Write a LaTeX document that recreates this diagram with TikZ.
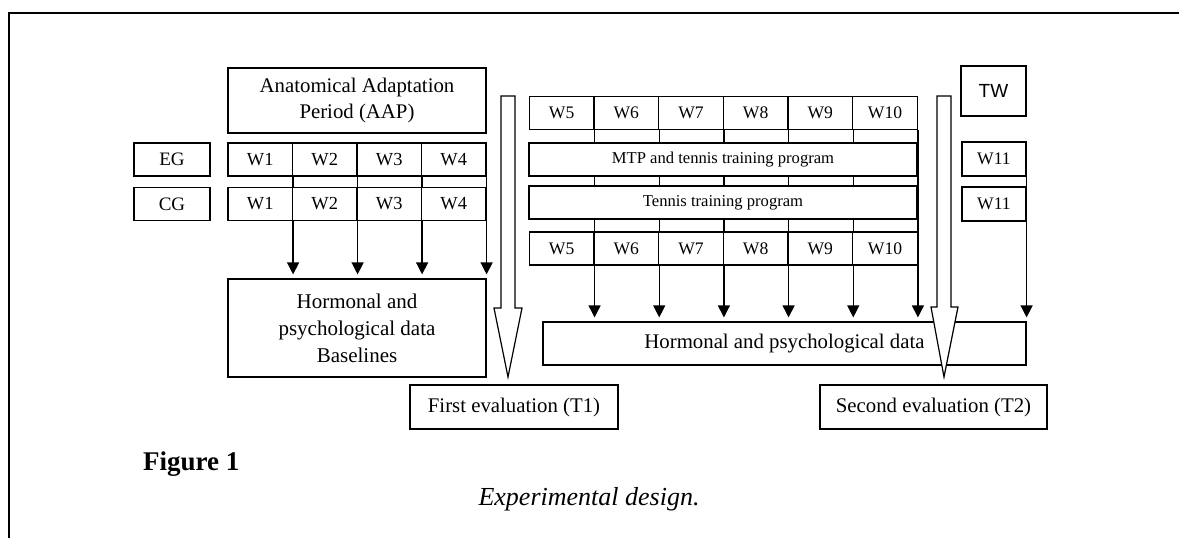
\documentclass[tikz,border=0pt]{standalone}
\usepackage{fontspec}
\setmainfont{Liberation Serif}
\newfontfamily\twfont{Liberation Sans}
\usetikzlibrary{arrows.meta,positioning}
\pgfdeclarelayer{background}
\pgfsetlayers{background,main}

\begin{document}
\begin{tikzpicture}[>=Latex,x=0.5pt,y=-0.5pt,
    every node/.style={font=\fontsize{10.4}{13}\selectfont},
    box/.style={draw,fill=white,line width=0.6pt,inner sep=0pt,align=center},
    cell/.style={box,minimum width=32.25pt,minimum height=16.5pt,font=\fontsize{9.2}{11}\selectfont},
    wcell/.style={box,minimum width=32.33pt,minimum height=16.5pt,font=\fontsize{8.8}{10}\selectfont},
    band/.style={box,minimum width=194pt,minimum height=16.5pt,font=\fontsize{8.3}{10}\selectfont},
    flow/.style={-{Triangle[width=6pt,length=6pt]},line width=0.65pt,shorten >=2pt},
    bigarrow/.style={draw,fill=white,line width=0.6pt,line join=miter}]
  \useasboundingbox (0,0) rectangle (1179,538);
  \draw[line width=1.25pt] (9,538) -- (9,13) -- (1179,13);

  % adaptation period
  \node[box,minimum width=129pt,minimum height=32.5pt] (aap) at (357,100.5) {Anatomical Adaptation\\Period (AAP)};
  \node[box,minimum width=38pt,minimum height=16.5pt,font=\fontsize{9.5}{11}\selectfont] (eg) at (172,159.5) {EG};
  \node[box,minimum width=38pt,minimum height=16.2pt,font=\fontsize{9.5}{11}\selectfont] (cg) at (172,204) {CG};
  \foreach \i in {1,...,4} {
    \node[cell] (eg\i) at ({228+(\i-0.5)*64.5},159.5) {W\i};
    \node[cell] (cg\i) at ({228+(\i-0.5)*64.5},204) {W\i};
  }
  \node[box,minimum width=129pt,minimum height=49pt,font=\fontsize{10.5}{13.5}\selectfont] (base) at (357,328) {Hormonal and\\psychological data\\Baselines};
  \node[box,minimum width=104pt,minimum height=22pt] (t1) at (514,407) {First evaluation (T1)};

  % training weeks
  \foreach \i in {5,...,10} {
    \node[wcell] (up\i) at ({529.3+(\i-4.5)*64.67},113) {W\i};
    \node[wcell] (lo\i) at ({529.3+(\i-4.5)*64.67},248.5) {W\i};
  }
  \node[band] (mtp) at (723,159.5) {MTP and tennis training program};
  \node[band] (tennis) at (723,202.5) {Tennis training program};
  \node[box,minimum width=241.5pt,minimum height=21.5pt] (data) at (784.5,343.5) {Hormonal and psychological data};
  \node[box,minimum width=113.5pt,minimum height=22pt] (t2) at (933.5,407) {Second evaluation (T2)};

  % transition week
  \node[box,minimum width=32.5pt,minimum height=25pt,font=\twfont\fontsize{9.5}{11}\selectfont] (tw) at (993.5,91) {TW};
  \node[wcell,minimum width=32pt,minimum height=17pt] (w11a) at (994,159) {W11};
  \node[wcell,minimum width=32pt,minimum height=17pt] (w11b) at (994,204) {W11};

  \begin{pgfonlayer}{background}
    \foreach \i in {1,...,4}
      \draw[flow] (eg\i.south east) -- (base.north -| eg\i.south east);
    \foreach \i in {5,...,10}
      \draw[flow] (up\i.south east) -- (data.north -| up\i.south east);
    \draw[flow] (w11a.south east) -- (data.north -| w11a.south east);
  \end{pgfonlayer}

  % hollow arrows to the evaluations
  \draw[bigarrow] (501,96) -- (515,96) -- (515,308) -- (522,308) -- (508,377) -- (494,308) -- (501,308) -- cycle;
  \draw[bigarrow] (937,96) -- (951,96) -- (951,307) -- (958,307) -- (944,377) -- (931,307) -- (937,307) -- cycle;

  \node[anchor=base west,font=\bfseries\fontsize{13.5}{16}\selectfont] (figno) at (136,470) {Figure 1};
  \node[anchor=base,font=\itshape\fontsize{13}{16}\selectfont] (figcap) at (589,505) {Experimental design.};
\end{tikzpicture}
\end{document}
